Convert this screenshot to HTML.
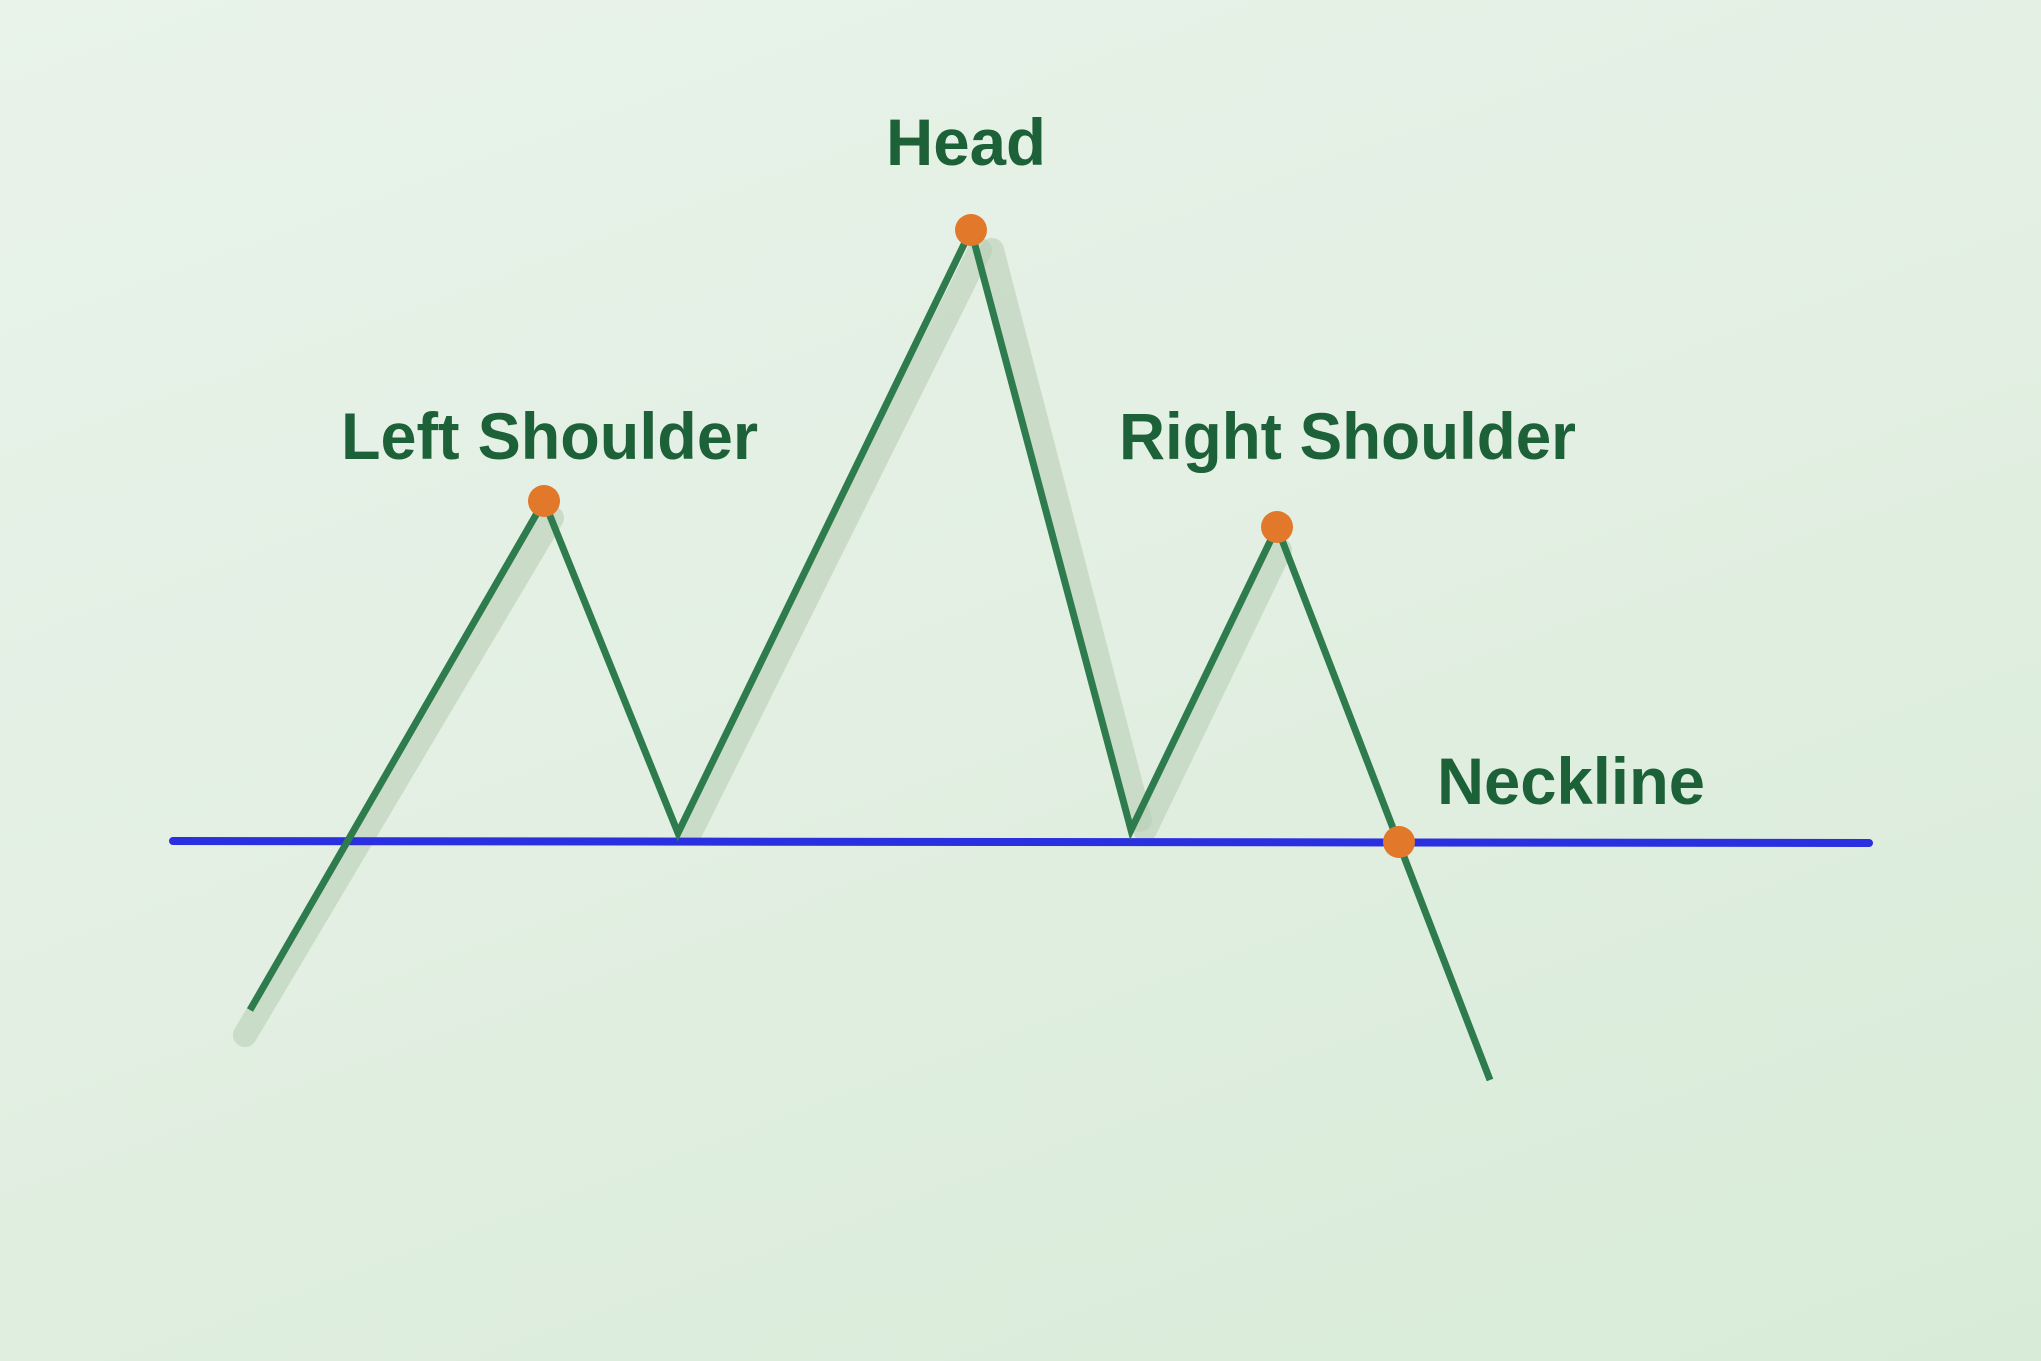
<!DOCTYPE html>
<html><head><meta charset="utf-8"><style>
html,body{margin:0;padding:0;width:2041px;height:1361px;overflow:hidden}
body{background:linear-gradient(160deg,#e9f3ea 0%,#e2efe2 50%,#d8ebd8 100%)}
svg{position:absolute;left:0;top:0}
text{font-family:"Liberation Sans",sans-serif;font-weight:bold;fill:#1d6139}
</style></head><body>
<svg width="2041" height="1361" viewBox="0 0 2041 1361">
<g fill="none" stroke="#b9cfb6" stroke-opacity="0.6" stroke-width="24" stroke-linecap="round">
<line x1="245" y1="1035" x2="552" y2="518"/>
<line x1="690" y1="833" x2="980" y2="250"/>
<line x1="992" y1="250" x2="1140" y2="820"/>
<line x1="1145" y1="830" x2="1280" y2="550"/>
</g>
<line x1="173" y1="841" x2="1869" y2="843" stroke="#2a2fe0" stroke-width="8" stroke-linecap="round"/>
<polyline points="250,1010 544,501 678,833 971,230 1131,830 1277,527 1490,1080"
 fill="none" stroke="#2e7b4d" stroke-width="7" stroke-linejoin="miter"/>
<g fill="#e2782a">
<circle cx="544" cy="501" r="16"/>
<circle cx="971" cy="230" r="16"/>
<circle cx="1277" cy="527" r="16"/>
<circle cx="1399" cy="842" r="16"/>
</g>
<text x="886" y="165" font-size="66" textLength="160" lengthAdjust="spacingAndGlyphs">Head</text>
<text x="341" y="459" font-size="66" textLength="417" lengthAdjust="spacingAndGlyphs">Left Shoulder</text>
<text x="1119" y="459" font-size="66" textLength="457" lengthAdjust="spacingAndGlyphs">Right Shoulder</text>
<text x="1437" y="804" font-size="66" textLength="268" lengthAdjust="spacingAndGlyphs">Neckline</text>
</svg>
</body></html>
